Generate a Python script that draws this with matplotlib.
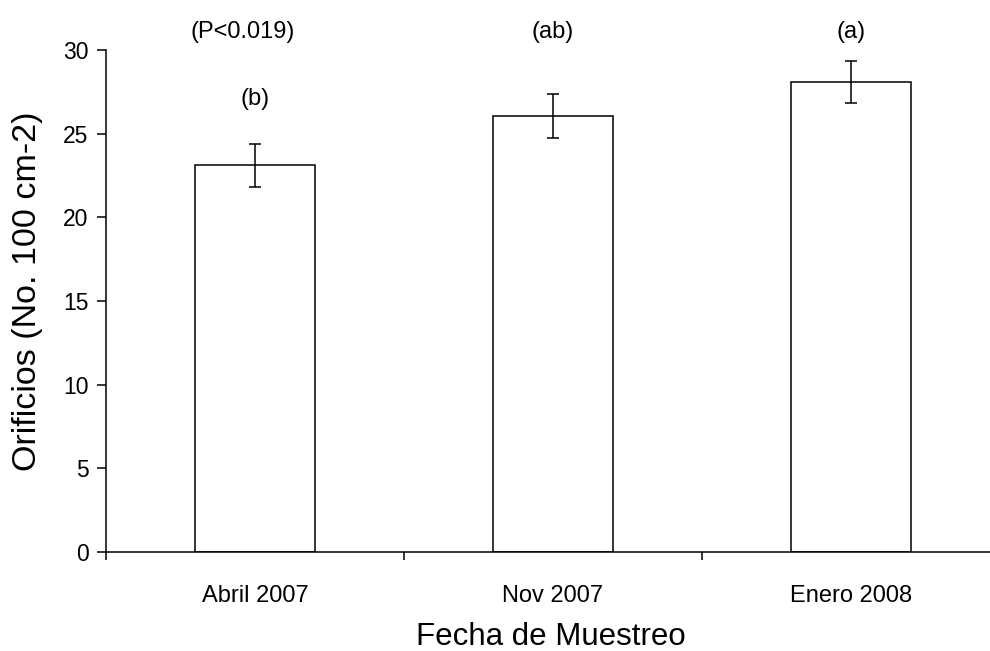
import matplotlib.pyplot as plt
import numpy as np

plt.rcParams['font.family'] = ['Liberation Sans', 'DejaVu Sans']

# data
fechas = ["Abril 2007", "Nov 2007", "Enero 2008"]
orificios = [23.1, 26.05, 28.1]
error = [1.3, 1.3, 1.25]
letras = ["(b)", "(ab)", "(a)"]
letra_y = [27.1, 31.1, 31.1]
p_texto = "(P<0.019)"
p_y = 31.1

fig = plt.figure(figsize=(9.9, 6.51), dpi=100)
ax = fig.add_axes([106/990, 99/651, 884/990, 502/651])

x = np.arange(len(fechas))
ax.bar(x, orificios, width=0.403, color='white', edgecolor='black', linewidth=1.1,
       yerr=error, capsize=4.5, error_kw=dict(elinewidth=1.1, capthick=1.1, ecolor='black'))

# significance letters above bars
for i in range(len(fechas)):
    ax.text(x[i], letra_y[i], letras[i], ha='center', va='center', fontsize=17, clip_on=False)
ax.text(x[0] - 0.04, p_y, p_texto, ha='center', va='center', fontsize=17, clip_on=False)

ax.set_yticks([0, 5, 10, 15, 20, 25, 30])

# ticks between categories, labels centered on bars
ax.set_xticks(np.arange(len(fechas) + 1) - 0.5)
ax.set_xticklabels([])
ax.set_xticks(x, minor=True)
ax.set_xticklabels(fechas, minor=True, fontsize=17)
ax.tick_params(axis='x', which='minor', length=0, pad=24)
ax.tick_params(axis='x', which='major', direction='out', length=6, width=1.1)
ax.tick_params(axis='y', direction='out', length=6.5, width=1.1, labelsize=16.5, pad=6)

# limits after ticks so set_xticks doesn't widen the view
ax.set_xlim(-0.5, -0.5 + 884/298)
ax.set_ylim(0, 30)

for s in ['top', 'right']:
    ax.spines[s].set_visible(False)
for s in ['left', 'bottom']:
    ax.spines[s].set_linewidth(1.1)

ax.set_ylabel("Orificios (No. 100 cm-2)", fontsize=24.5)
ax.yaxis.set_label_coords(-0.0713, 0.52)
ax.set_xlabel("Fecha de Muestreo", fontsize=22.5)
ax.xaxis.set_label_coords(0.503, -0.139)

fig.savefig("out.png", dpi=100)
